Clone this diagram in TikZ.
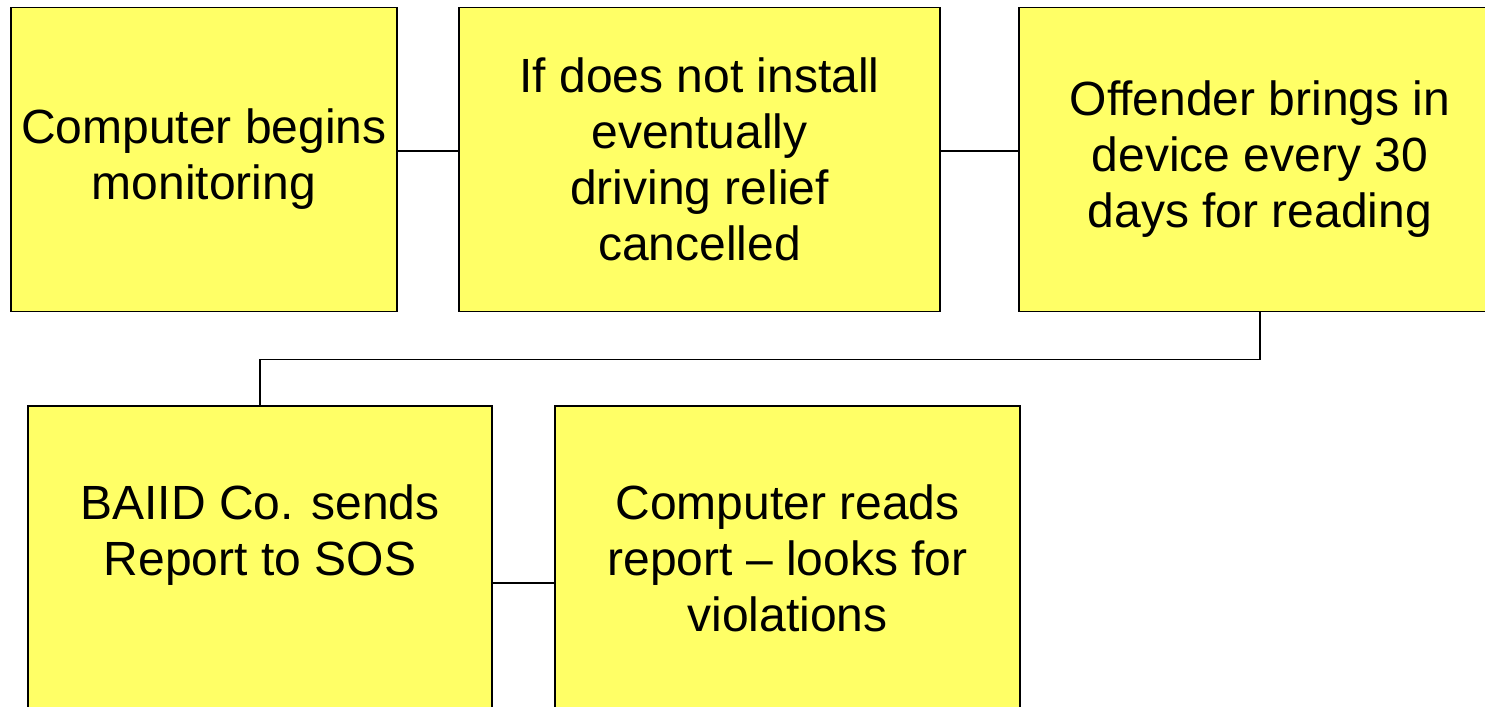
\documentclass[tikz,border=0pt]{standalone}
\usepackage{fontspec}
\setmainfont{Liberation Sans}
\usetikzlibrary{positioning}

\begin{document}
\begin{tikzpicture}[
    x=0.5pt, y=-0.5pt,
    line width=0.75pt,
    step box/.style={rectangle,draw=black,fill=boxyellow,align=center,
      minimum height=152pt,inner sep=0pt,
      font=\fontsize{24}{28}\selectfont}]
  \definecolor{boxyellow}{HTML}{FFFF66}
  \clip (0,0) rectangle (1485,707);

  \node[step box,minimum width=193pt] (Monitor) at (204,159.5)
    {Computer begins\\monitoring};
  \node[step box,minimum width=240.5pt] (NoInstall) at (699.5,159.5)
    {If does not install\\eventually\\driving relief\\cancelled};
  \node[step box,minimum width=241pt] (Reading) at (1260,159.5)
    {Offender brings in\\device every 30\\days for reading};
  \node[step box,minimum width=232pt] (Report) at (260,558)
    {BAIID Co. sends\\Report to SOS\\\mbox{}};
  \node[step box,minimum width=232.5pt] (Violations) at (787.5,558)
    {Computer reads\\report -- looks for\\violations};

  \draw ([yshift=4.25pt]Monitor.east) -- ([yshift=4.25pt]NoInstall.west);
  \draw ([yshift=4.25pt]NoInstall.east) -- ([yshift=4.25pt]Reading.west);
  \draw (Reading.south) -- ++(0,47) -| (Report.north);
  \draw ([yshift=-12.5pt]Report.east) -- ([yshift=-12.5pt]Violations.west);
\end{tikzpicture}
\end{document}
